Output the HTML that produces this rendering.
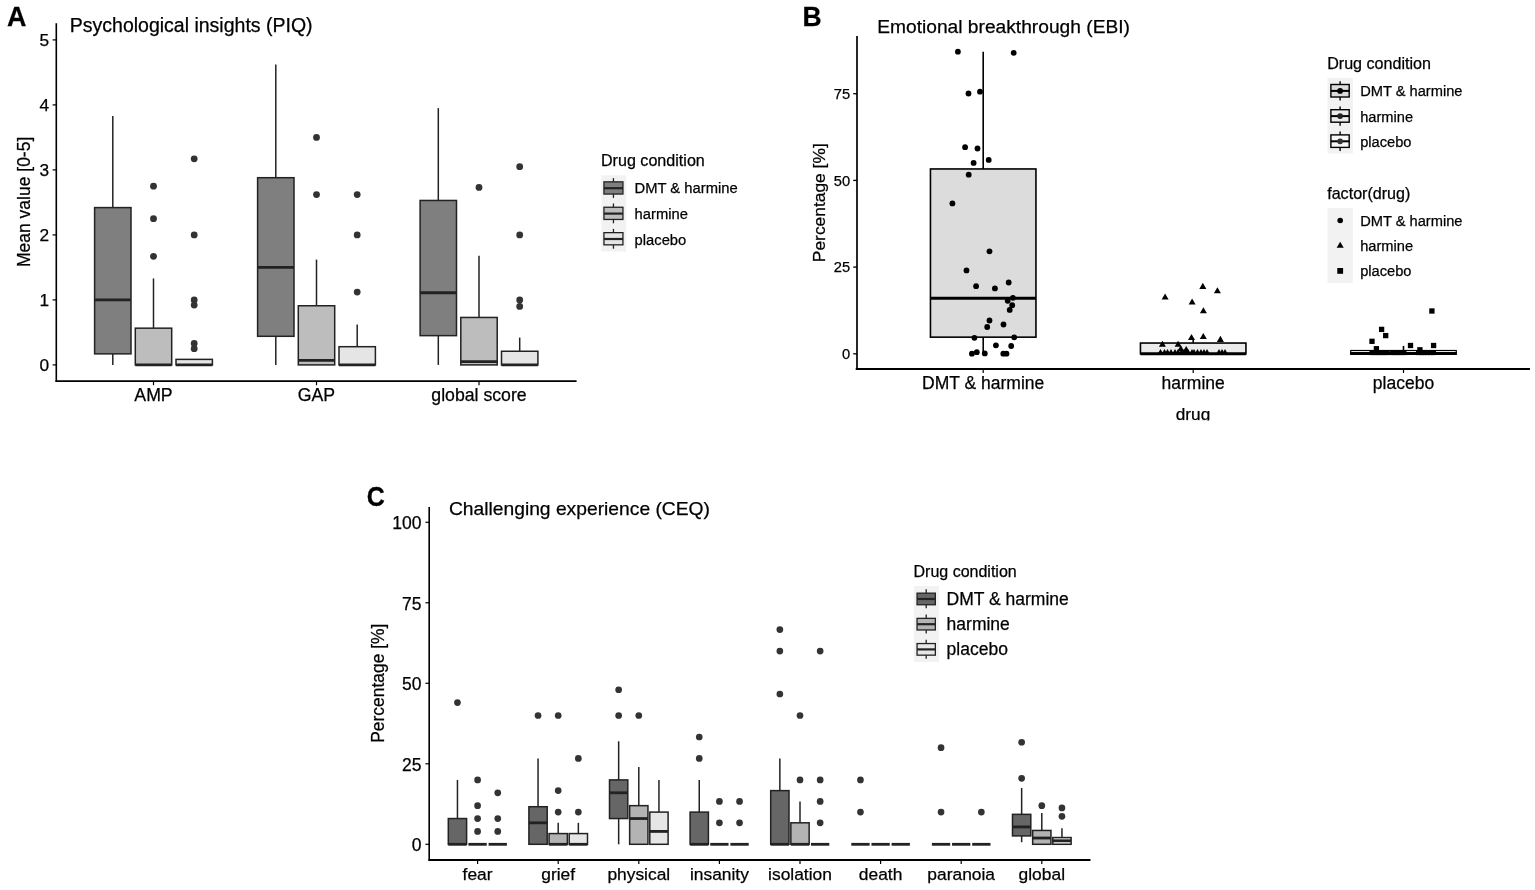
<!DOCTYPE html>
<html><head><meta charset="utf-8"><title>Figure</title>
<style>
html,body{margin:0;padding:0;background:#fff;}
body{width:1535px;height:890px;overflow:hidden;}
svg{display:block;font-family:'Liberation Sans', Arial, Helvetica, sans-serif;}
text{stroke:#000;stroke-width:0.25px;paint-order:stroke;}
</style></head>
<body>
<svg width="1535" height="890" viewBox="0 0 1535 890">
<rect x="0" y="0" width="1535" height="890" fill="#ffffff"/>
<g id="A">
<text x="0" y="0" font-size="26.5" text-anchor="start" fill="#000" font-weight="bold" transform="translate(6.95 26.2) scale(1.015 1.035)">A</text>
<text x="69.8" y="31.6" font-size="19.5" text-anchor="start" fill="#000">Psychological insights (PIQ)</text>
<line x1="56.3" y1="23.2" x2="56.3" y2="382" stroke="#000" stroke-width="1.6" stroke-linecap="butt"/>
<line x1="55.5" y1="381.2" x2="576.6" y2="381.2" stroke="#000" stroke-width="1.8" stroke-linecap="butt"/>
<line x1="52.6" y1="364.9" x2="56.4" y2="364.9" stroke="#000" stroke-width="1.2" stroke-linecap="butt"/>
<text x="49" y="371" font-size="17.3" text-anchor="end" fill="#000">0</text>
<line x1="52.6" y1="299.9" x2="56.4" y2="299.9" stroke="#000" stroke-width="1.2" stroke-linecap="butt"/>
<text x="49" y="306" font-size="17.3" text-anchor="end" fill="#000">1</text>
<line x1="52.6" y1="234.9" x2="56.4" y2="234.9" stroke="#000" stroke-width="1.2" stroke-linecap="butt"/>
<text x="49" y="241" font-size="17.3" text-anchor="end" fill="#000">2</text>
<line x1="52.6" y1="169.9" x2="56.4" y2="169.9" stroke="#000" stroke-width="1.2" stroke-linecap="butt"/>
<text x="49" y="176" font-size="17.3" text-anchor="end" fill="#000">3</text>
<line x1="52.6" y1="104.9" x2="56.4" y2="104.9" stroke="#000" stroke-width="1.2" stroke-linecap="butt"/>
<text x="49" y="111" font-size="17.3" text-anchor="end" fill="#000">4</text>
<line x1="52.6" y1="39.9" x2="56.4" y2="39.9" stroke="#000" stroke-width="1.2" stroke-linecap="butt"/>
<text x="49" y="46" font-size="17.3" text-anchor="end" fill="#000">5</text>
<line x1="153.5" y1="381.2" x2="153.5" y2="385.2" stroke="#000" stroke-width="1.2" stroke-linecap="butt"/>
<text x="153.5" y="401.2" font-size="17.7" text-anchor="middle" fill="#000">AMP</text>
<line x1="316.5" y1="381.2" x2="316.5" y2="385.2" stroke="#000" stroke-width="1.2" stroke-linecap="butt"/>
<text x="316.5" y="401.2" font-size="17.7" text-anchor="middle" fill="#000">GAP</text>
<line x1="479" y1="381.2" x2="479" y2="385.2" stroke="#000" stroke-width="1.2" stroke-linecap="butt"/>
<text x="479" y="401.2" font-size="17.7" text-anchor="middle" fill="#000">global score</text>
<text x="30" y="201.9" font-size="17.5" text-anchor="middle" fill="#000" transform="rotate(-90 30 201.9)">Mean value [0-5]</text>
<line x1="112.8" y1="115.95" x2="112.8" y2="207.6" stroke="#222222" stroke-width="1.5" stroke-linecap="butt"/>
<line x1="112.8" y1="353.85" x2="112.8" y2="364.9" stroke="#222222" stroke-width="1.5" stroke-linecap="butt"/>
<rect x="94.6" y="207.6" width="36.4" height="146.25" fill="#7f7f7f" stroke="#222222" stroke-width="1.5"/>
<line x1="94.6" y1="299.9" x2="131" y2="299.9" stroke="#222222" stroke-width="2.8" stroke-linecap="butt"/>
<line x1="153.5" y1="278.45" x2="153.5" y2="328.17" stroke="#222222" stroke-width="1.5" stroke-linecap="butt"/>
<rect x="135.3" y="328.17" width="36.4" height="36.73" fill="#bdbdbd" stroke="#222222" stroke-width="1.5"/>
<line x1="135.3" y1="364.9" x2="171.7" y2="364.9" stroke="#222222" stroke-width="2.8" stroke-linecap="butt"/>
<circle cx="153.5" cy="186.15" r="3.4" fill="#333"/>
<circle cx="153.5" cy="218.65" r="3.4" fill="#333"/>
<circle cx="153.5" cy="256.35" r="3.4" fill="#333"/>
<rect x="176" y="359.38" width="36.4" height="5.52" fill="#e5e5e5" stroke="#222222" stroke-width="1.5"/>
<line x1="176" y1="364.9" x2="212.4" y2="364.9" stroke="#222222" stroke-width="2.8" stroke-linecap="butt"/>
<circle cx="194.2" cy="158.85" r="3.4" fill="#333"/>
<circle cx="194.2" cy="234.9" r="3.4" fill="#333"/>
<circle cx="194.2" cy="299.9" r="3.4" fill="#333"/>
<circle cx="194.2" cy="305.1" r="3.4" fill="#333"/>
<circle cx="194.2" cy="343.45" r="3.4" fill="#333"/>
<circle cx="194.2" cy="348.65" r="3.4" fill="#333"/>
<line x1="275.8" y1="64.6" x2="275.8" y2="177.7" stroke="#222222" stroke-width="1.5" stroke-linecap="butt"/>
<line x1="275.8" y1="336.3" x2="275.8" y2="364.9" stroke="#222222" stroke-width="1.5" stroke-linecap="butt"/>
<rect x="257.6" y="177.7" width="36.4" height="158.6" fill="#7f7f7f" stroke="#222222" stroke-width="1.5"/>
<line x1="257.6" y1="267.4" x2="294" y2="267.4" stroke="#222222" stroke-width="2.8" stroke-linecap="butt"/>
<line x1="316.5" y1="259.6" x2="316.5" y2="305.75" stroke="#222222" stroke-width="1.5" stroke-linecap="butt"/>
<rect x="298.3" y="305.75" width="36.4" height="59.15" fill="#bdbdbd" stroke="#222222" stroke-width="1.5"/>
<line x1="298.3" y1="360.35" x2="334.7" y2="360.35" stroke="#222222" stroke-width="2.8" stroke-linecap="butt"/>
<circle cx="316.5" cy="137.4" r="3.4" fill="#333"/>
<circle cx="316.5" cy="194.6" r="3.4" fill="#333"/>
<line x1="357.2" y1="324.6" x2="357.2" y2="346.7" stroke="#222222" stroke-width="1.5" stroke-linecap="butt"/>
<rect x="339" y="346.7" width="36.4" height="18.2" fill="#e5e5e5" stroke="#222222" stroke-width="1.5"/>
<line x1="339" y1="364.9" x2="375.4" y2="364.9" stroke="#222222" stroke-width="2.8" stroke-linecap="butt"/>
<circle cx="357.2" cy="194.6" r="3.4" fill="#333"/>
<circle cx="357.2" cy="234.9" r="3.4" fill="#333"/>
<circle cx="357.2" cy="292.1" r="3.4" fill="#333"/>
<line x1="438.3" y1="108.15" x2="438.3" y2="200.45" stroke="#222222" stroke-width="1.5" stroke-linecap="butt"/>
<line x1="438.3" y1="335.65" x2="438.3" y2="364.9" stroke="#222222" stroke-width="1.5" stroke-linecap="butt"/>
<rect x="420.1" y="200.45" width="36.4" height="135.2" fill="#7f7f7f" stroke="#222222" stroke-width="1.5"/>
<line x1="420.1" y1="292.75" x2="456.5" y2="292.75" stroke="#222222" stroke-width="2.8" stroke-linecap="butt"/>
<line x1="479" y1="255.7" x2="479" y2="317.45" stroke="#222222" stroke-width="1.5" stroke-linecap="butt"/>
<rect x="460.8" y="317.45" width="36.4" height="47.45" fill="#bdbdbd" stroke="#222222" stroke-width="1.5"/>
<line x1="460.8" y1="361.65" x2="497.2" y2="361.65" stroke="#222222" stroke-width="2.8" stroke-linecap="butt"/>
<circle cx="479" cy="187.45" r="3.4" fill="#333"/>
<line x1="519.7" y1="337.6" x2="519.7" y2="351.25" stroke="#222222" stroke-width="1.5" stroke-linecap="butt"/>
<rect x="501.5" y="351.25" width="36.4" height="13.65" fill="#e5e5e5" stroke="#222222" stroke-width="1.5"/>
<line x1="501.5" y1="364.9" x2="537.9" y2="364.9" stroke="#222222" stroke-width="2.8" stroke-linecap="butt"/>
<circle cx="519.7" cy="166.65" r="3.4" fill="#333"/>
<circle cx="519.7" cy="234.9" r="3.4" fill="#333"/>
<circle cx="519.7" cy="299.9" r="3.4" fill="#333"/>
<circle cx="519.7" cy="306.4" r="3.4" fill="#333"/>
<text x="601" y="165.8" font-size="16.1" text-anchor="start" fill="#000">Drug condition</text>
<rect x="601.4" y="175.3" width="24.8" height="76.2" fill="#f2f2f2"/>
<line x1="613.45" y1="178.1" x2="613.45" y2="197.9" stroke="#222222" stroke-width="1.3" stroke-linecap="butt"/>
<rect x="603.95" y="181.85" width="19" height="12.2" fill="#7f7f7f" stroke="#222222" stroke-width="1.3"/>
<line x1="603.95" y1="188.2" x2="622.95" y2="188.2" stroke="#222222" stroke-width="2.2" stroke-linecap="butt"/>
<text x="634.6" y="193.4" font-size="14.75" text-anchor="start" fill="#000">DMT &amp; harmine</text>
<line x1="613.45" y1="203.5" x2="613.45" y2="223.3" stroke="#222222" stroke-width="1.3" stroke-linecap="butt"/>
<rect x="603.95" y="207.25" width="19" height="12.2" fill="#bdbdbd" stroke="#222222" stroke-width="1.3"/>
<line x1="603.95" y1="213.6" x2="622.95" y2="213.6" stroke="#222222" stroke-width="2.2" stroke-linecap="butt"/>
<text x="634.6" y="219.1" font-size="14.75" text-anchor="start" fill="#000">harmine</text>
<line x1="613.45" y1="228.9" x2="613.45" y2="248.7" stroke="#222222" stroke-width="1.3" stroke-linecap="butt"/>
<rect x="603.95" y="232.65" width="19" height="12.2" fill="#e5e5e5" stroke="#222222" stroke-width="1.3"/>
<line x1="603.95" y1="239" x2="622.95" y2="239" stroke="#222222" stroke-width="2.2" stroke-linecap="butt"/>
<text x="634.6" y="244.5" font-size="14.75" text-anchor="start" fill="#000">placebo</text>
</g>
<g id="B">
<text x="0" y="0" font-size="26.5" text-anchor="start" fill="#000" font-weight="bold" transform="translate(802.5 26) scale(1.0 1.03)">B</text>
<text x="877.2" y="32.6" font-size="19.2" text-anchor="start" fill="#000">Emotional breakthrough (EBI)</text>
<line x1="857" y1="36" x2="857" y2="369.9" stroke="#000" stroke-width="1.7" stroke-linecap="butt"/>
<line x1="855.7" y1="368.95" x2="1530" y2="368.95" stroke="#000" stroke-width="2" stroke-linecap="butt"/>
<line x1="853.2" y1="353.8" x2="857" y2="353.8" stroke="#000" stroke-width="1.3" stroke-linecap="butt"/>
<text x="850.1" y="359.1" font-size="14.7" text-anchor="end" fill="#000">0</text>
<line x1="853.2" y1="267.1" x2="857" y2="267.1" stroke="#000" stroke-width="1.3" stroke-linecap="butt"/>
<text x="850.1" y="272.4" font-size="14.7" text-anchor="end" fill="#000">25</text>
<line x1="853.2" y1="180.4" x2="857" y2="180.4" stroke="#000" stroke-width="1.3" stroke-linecap="butt"/>
<text x="850.1" y="185.7" font-size="14.7" text-anchor="end" fill="#000">50</text>
<line x1="853.2" y1="93.7" x2="857" y2="93.7" stroke="#000" stroke-width="1.3" stroke-linecap="butt"/>
<text x="850.1" y="99" font-size="14.7" text-anchor="end" fill="#000">75</text>
<line x1="983.2" y1="368.9" x2="983.2" y2="373" stroke="#000" stroke-width="1.2" stroke-linecap="butt"/>
<text x="983.2" y="389" font-size="17.5" text-anchor="middle" fill="#000">DMT &amp; harmine</text>
<line x1="1193.2" y1="368.9" x2="1193.2" y2="373" stroke="#000" stroke-width="1.2" stroke-linecap="butt"/>
<text x="1193.2" y="389" font-size="17.5" text-anchor="middle" fill="#000">harmine</text>
<line x1="1403.5" y1="368.9" x2="1403.5" y2="373" stroke="#000" stroke-width="1.2" stroke-linecap="butt"/>
<text x="1403.5" y="389" font-size="17.5" text-anchor="middle" fill="#000">placebo</text>
<text x="825.3" y="202.7" font-size="17.4" text-anchor="middle" fill="#000" transform="rotate(-90 825.3 202.7)">Percentage [%]</text>
<clipPath id="clipB"><rect x="0" y="0" width="1535" height="420.4"/></clipPath>
<text x="1193" y="420.1" font-size="17.2" text-anchor="middle" fill="#000" clip-path="url(#clipB)">drug</text>
<line x1="983.2" y1="51.74" x2="983.2" y2="168.96" stroke="#000" stroke-width="1.6" stroke-linecap="butt"/>
<line x1="983.2" y1="337.15" x2="983.2" y2="353.8" stroke="#000" stroke-width="1.6" stroke-linecap="butt"/>
<rect x="930.45" y="168.96" width="105.5" height="168.2" fill="#dcdcdc" stroke="#000" stroke-width="1.6"/>
<line x1="930.45" y1="298.31" x2="1035.95" y2="298.31" stroke="#000" stroke-width="3" stroke-linecap="butt"/>
<line x1="1193.2" y1="340.1" x2="1193.2" y2="343.05" stroke="#000" stroke-width="1.6" stroke-linecap="butt"/>
<rect x="1140.45" y="343.05" width="105.5" height="10.75" fill="#ebebeb" stroke="#000" stroke-width="1.6"/>
<line x1="1140.45" y1="353.8" x2="1245.95" y2="353.8" stroke="#000" stroke-width="3" stroke-linecap="butt"/>
<line x1="1403.5" y1="345.89" x2="1403.5" y2="350.5" stroke="#000" stroke-width="1.6" stroke-linecap="butt"/>
<rect x="1350.75" y="350.5" width="105.5" height="3.3" fill="#ffffff" stroke="#000" stroke-width="1.2"/>
<line x1="1350.15" y1="353.5" x2="1456.85" y2="353.5" stroke="#000" stroke-width="3" stroke-linecap="butt"/>
<circle cx="957.9" cy="51.7" r="2.9" fill="#000"/>
<circle cx="1013.7" cy="52.8" r="2.9" fill="#000"/>
<circle cx="968.5" cy="93.5" r="2.9" fill="#000"/>
<circle cx="980" cy="91.7" r="2.9" fill="#000"/>
<circle cx="965.1" cy="147.2" r="2.9" fill="#000"/>
<circle cx="977.5" cy="148.5" r="2.9" fill="#000"/>
<circle cx="988.7" cy="159.9" r="2.9" fill="#000"/>
<circle cx="973.6" cy="162.9" r="2.9" fill="#000"/>
<circle cx="968.7" cy="174.7" r="2.9" fill="#000"/>
<circle cx="952.4" cy="203.4" r="2.9" fill="#000"/>
<circle cx="989.5" cy="251.3" r="2.9" fill="#000"/>
<circle cx="966.5" cy="270.4" r="2.9" fill="#000"/>
<circle cx="976.1" cy="286.2" r="2.9" fill="#000"/>
<circle cx="994.9" cy="288.4" r="2.9" fill="#000"/>
<circle cx="1008.7" cy="282.5" r="2.9" fill="#000"/>
<circle cx="1012.9" cy="297.8" r="2.9" fill="#000"/>
<circle cx="1007.7" cy="300.8" r="2.9" fill="#000"/>
<circle cx="1012.2" cy="305.2" r="2.9" fill="#000"/>
<circle cx="1009.7" cy="309.9" r="2.9" fill="#000"/>
<circle cx="989.5" cy="320.5" r="2.9" fill="#000"/>
<circle cx="987.2" cy="327" r="2.9" fill="#000"/>
<circle cx="1003.5" cy="324.5" r="2.9" fill="#000"/>
<circle cx="974.4" cy="337.8" r="2.9" fill="#000"/>
<circle cx="1014.2" cy="337.3" r="2.9" fill="#000"/>
<circle cx="995.9" cy="345.3" r="2.9" fill="#000"/>
<circle cx="1011.2" cy="346" r="2.9" fill="#000"/>
<circle cx="971.9" cy="353.7" r="2.9" fill="#000"/>
<circle cx="976.8" cy="352.2" r="2.9" fill="#000"/>
<circle cx="984.8" cy="353.4" r="2.9" fill="#000"/>
<circle cx="1003.3" cy="353.7" r="2.9" fill="#000"/>
<circle cx="1006.5" cy="353.7" r="2.9" fill="#000"/>
<polygon points="1199.3,288.92 1206.3,288.92 1202.8,282.86" fill="#000"/>
<polygon points="1213.9,293.32 1220.9,293.32 1217.4,287.26" fill="#000"/>
<polygon points="1161.6,299.52 1168.6,299.52 1165.1,293.46" fill="#000"/>
<polygon points="1188.6,304.62 1195.6,304.62 1192.1,298.56" fill="#000"/>
<polygon points="1199.9,313.32 1206.9,313.32 1203.4,307.26" fill="#000"/>
<polygon points="1188,340.02 1195,340.02 1191.5,333.96" fill="#000"/>
<polygon points="1199.8,339.12 1206.8,339.12 1203.3,333.06" fill="#000"/>
<polygon points="1216.9,341.92 1223.9,341.92 1220.4,335.86" fill="#000"/>
<polygon points="1158.9,346.72 1165.9,346.72 1162.4,340.66" fill="#000"/>
<polygon points="1174.6,346.72 1181.6,346.72 1178.1,340.66" fill="#000"/>
<polygon points="1177.3,351.22 1184.3,351.22 1180.8,345.16" fill="#000"/>
<polygon points="1182.7,352.02 1189.7,352.02 1186.2,345.96" fill="#000"/>
<polygon points="1157.2,354.71 1163.8,354.71 1160.5,348.99" fill="#000"/>
<polygon points="1161.2,354.71 1167.8,354.71 1164.5,348.99" fill="#000"/>
<polygon points="1164.2,354.71 1170.8,354.71 1167.5,348.99" fill="#000"/>
<polygon points="1167.7,354.71 1174.3,354.71 1171,348.99" fill="#000"/>
<polygon points="1171.7,354.71 1178.3,354.71 1175,348.99" fill="#000"/>
<polygon points="1174.7,354.71 1181.3,354.71 1178,348.99" fill="#000"/>
<polygon points="1178.2,354.71 1184.8,354.71 1181.5,348.99" fill="#000"/>
<polygon points="1180.7,354.71 1187.3,354.71 1184,348.99" fill="#000"/>
<polygon points="1184.7,354.71 1191.3,354.71 1188,348.99" fill="#000"/>
<polygon points="1188.7,354.71 1195.3,354.71 1192,348.99" fill="#000"/>
<polygon points="1190.7,354.71 1197.3,354.71 1194,348.99" fill="#000"/>
<polygon points="1194.2,354.71 1200.8,354.71 1197.5,348.99" fill="#000"/>
<polygon points="1197.7,354.71 1204.3,354.71 1201,348.99" fill="#000"/>
<polygon points="1200.7,354.71 1207.3,354.71 1204,348.99" fill="#000"/>
<polygon points="1203.7,354.71 1210.3,354.71 1207,348.99" fill="#000"/>
<polygon points="1215.7,354.71 1222.3,354.71 1219,348.99" fill="#000"/>
<polygon points="1218.7,354.71 1225.3,354.71 1222,348.99" fill="#000"/>
<polygon points="1221.7,354.71 1228.3,354.71 1225,348.99" fill="#000"/>
<rect x="1429.25" y="308.35" width="5.3" height="5.3" fill="#000"/>
<rect x="1378.95" y="326.75" width="5.3" height="5.3" fill="#000"/>
<rect x="1383.05" y="332.95" width="5.3" height="5.3" fill="#000"/>
<rect x="1369.35" y="338.65" width="5.3" height="5.3" fill="#000"/>
<rect x="1407.85" y="342.85" width="5.3" height="5.3" fill="#000"/>
<rect x="1430.95" y="342.85" width="5.3" height="5.3" fill="#000"/>
<rect x="1373.75" y="346.05" width="5.3" height="5.3" fill="#000"/>
<rect x="1417.25" y="347.15" width="5.3" height="5.3" fill="#000"/>
<rect x="1369.5" y="350.1" width="5" height="5" fill="#000"/>
<rect x="1372.5" y="350.1" width="5" height="5" fill="#000"/>
<rect x="1375.5" y="350.1" width="5" height="5" fill="#000"/>
<rect x="1378.5" y="350.1" width="5" height="5" fill="#000"/>
<rect x="1381.5" y="350.1" width="5" height="5" fill="#000"/>
<rect x="1384.5" y="350.1" width="5" height="5" fill="#000"/>
<rect x="1389.5" y="350.1" width="5" height="5" fill="#000"/>
<rect x="1392.5" y="350.1" width="5" height="5" fill="#000"/>
<rect x="1395.5" y="350.1" width="5" height="5" fill="#000"/>
<rect x="1398.5" y="350.1" width="5" height="5" fill="#000"/>
<rect x="1401.5" y="350.1" width="5" height="5" fill="#000"/>
<rect x="1416" y="350.1" width="5" height="5" fill="#000"/>
<rect x="1419" y="350.1" width="5" height="5" fill="#000"/>
<rect x="1422" y="350.1" width="5" height="5" fill="#000"/>
<rect x="1425" y="350.1" width="5" height="5" fill="#000"/>
<rect x="1428" y="350.1" width="5" height="5" fill="#000"/>
<rect x="1431" y="350.1" width="5" height="5" fill="#000"/>
<text x="1327.2" y="68.9" font-size="16.1" text-anchor="start" fill="#000">Drug condition</text>
<rect x="1327.5" y="78" width="25.4" height="75.5" fill="#f2f2f2"/>
<line x1="1340.1" y1="81.2" x2="1340.1" y2="100.6" stroke="#000" stroke-width="1.4" stroke-linecap="butt"/>
<rect x="1330.9" y="84.5" width="18.3" height="12.5" fill="#dcdcdc" stroke="#000" stroke-width="1.4"/>
<line x1="1330.9" y1="90.9" x2="1349.2" y2="90.9" stroke="#000" stroke-width="2" stroke-linecap="butt"/>
<circle cx="1340.1" cy="90.9" r="2.85" fill="#000"/>
<text x="1360.2" y="96.4" font-size="14.65" text-anchor="start" fill="#000">DMT &amp; harmine</text>
<line x1="1340.1" y1="106.4" x2="1340.1" y2="125.8" stroke="#000" stroke-width="1.4" stroke-linecap="butt"/>
<rect x="1330.9" y="109.7" width="18.3" height="12.5" fill="#ebebeb" stroke="#000" stroke-width="1.4"/>
<line x1="1330.9" y1="116.1" x2="1349.2" y2="116.1" stroke="#000" stroke-width="2" stroke-linecap="butt"/>
<circle cx="1340.1" cy="116.1" r="2.85" fill="#222"/>
<text x="1360.2" y="121.7" font-size="14.65" text-anchor="start" fill="#000">harmine</text>
<line x1="1340.1" y1="131.6" x2="1340.1" y2="151" stroke="#000" stroke-width="1.4" stroke-linecap="butt"/>
<rect x="1330.9" y="134.9" width="18.3" height="12.5" fill="#f7f7f7" stroke="#000" stroke-width="1.4"/>
<line x1="1330.9" y1="141.3" x2="1349.2" y2="141.3" stroke="#000" stroke-width="2" stroke-linecap="butt"/>
<circle cx="1340.1" cy="141.3" r="2.85" fill="#333"/>
<text x="1360.2" y="146.8" font-size="14.65" text-anchor="start" fill="#000">placebo</text>
<text x="1327.2" y="198.9" font-size="16.1" text-anchor="start" fill="#000">factor(drug)</text>
<rect x="1327.5" y="208" width="25.4" height="74.9" fill="#f2f2f2"/>
<circle cx="1340.2" cy="220.5" r="2.8" fill="#000"/>
<polygon points="1336.65,247.85 1343.75,247.85 1340.2,241.7" fill="#000"/>
<rect x="1337.3" y="268" width="5.8" height="5.8" fill="#000"/>
<text x="1360.2" y="225.8" font-size="14.65" text-anchor="start" fill="#000">DMT &amp; harmine</text>
<text x="1360.2" y="251" font-size="14.65" text-anchor="start" fill="#000">harmine</text>
<text x="1360.2" y="276.2" font-size="14.65" text-anchor="start" fill="#000">placebo</text>
</g>
<g id="C">
<text x="0" y="0" font-size="26.5" text-anchor="start" fill="#000" font-weight="bold" transform="translate(366.85 505.6) scale(0.944 1.065)">C</text>
<text x="448.9" y="515" font-size="19.25" text-anchor="start" fill="#000">Challenging experience (CEQ)</text>
<line x1="429.2" y1="507" x2="429.2" y2="860.8" stroke="#000" stroke-width="1.6" stroke-linecap="butt"/>
<line x1="428.4" y1="860" x2="1090.5" y2="860" stroke="#000" stroke-width="1.8" stroke-linecap="butt"/>
<line x1="425.4" y1="844.3" x2="429.2" y2="844.3" stroke="#000" stroke-width="1.2" stroke-linecap="butt"/>
<text x="421.4" y="851.2" font-size="17.5" text-anchor="end" fill="#000">0</text>
<line x1="425.4" y1="763.8" x2="429.2" y2="763.8" stroke="#000" stroke-width="1.2" stroke-linecap="butt"/>
<text x="421.4" y="770.7" font-size="17.5" text-anchor="end" fill="#000">25</text>
<line x1="425.4" y1="683.3" x2="429.2" y2="683.3" stroke="#000" stroke-width="1.2" stroke-linecap="butt"/>
<text x="421.4" y="690.2" font-size="17.5" text-anchor="end" fill="#000">50</text>
<line x1="425.4" y1="602.8" x2="429.2" y2="602.8" stroke="#000" stroke-width="1.2" stroke-linecap="butt"/>
<text x="421.4" y="609.7" font-size="17.5" text-anchor="end" fill="#000">75</text>
<line x1="425.4" y1="522.3" x2="429.2" y2="522.3" stroke="#000" stroke-width="1.2" stroke-linecap="butt"/>
<text x="421.4" y="529.2" font-size="17.5" text-anchor="end" fill="#000">100</text>
<line x1="477.6" y1="859.9" x2="477.6" y2="864" stroke="#000" stroke-width="1.2" stroke-linecap="butt"/>
<text x="477.6" y="880" font-size="17.4" text-anchor="middle" fill="#000">fear</text>
<line x1="558.2" y1="859.9" x2="558.2" y2="864" stroke="#000" stroke-width="1.2" stroke-linecap="butt"/>
<text x="558.2" y="880" font-size="17.4" text-anchor="middle" fill="#000">grief</text>
<line x1="638.8" y1="859.9" x2="638.8" y2="864" stroke="#000" stroke-width="1.2" stroke-linecap="butt"/>
<text x="638.8" y="880" font-size="17.4" text-anchor="middle" fill="#000">physical</text>
<line x1="719.4" y1="859.9" x2="719.4" y2="864" stroke="#000" stroke-width="1.2" stroke-linecap="butt"/>
<text x="719.4" y="880" font-size="17.4" text-anchor="middle" fill="#000">insanity</text>
<line x1="800" y1="859.9" x2="800" y2="864" stroke="#000" stroke-width="1.2" stroke-linecap="butt"/>
<text x="800" y="880" font-size="17.4" text-anchor="middle" fill="#000">isolation</text>
<line x1="880.6" y1="859.9" x2="880.6" y2="864" stroke="#000" stroke-width="1.2" stroke-linecap="butt"/>
<text x="880.6" y="880" font-size="17.4" text-anchor="middle" fill="#000">death</text>
<line x1="961.2" y1="859.9" x2="961.2" y2="864" stroke="#000" stroke-width="1.2" stroke-linecap="butt"/>
<text x="961.2" y="880" font-size="17.4" text-anchor="middle" fill="#000">paranoia</text>
<line x1="1041.8" y1="859.9" x2="1041.8" y2="864" stroke="#000" stroke-width="1.2" stroke-linecap="butt"/>
<text x="1041.8" y="880" font-size="17.4" text-anchor="middle" fill="#000">global</text>
<text x="384.5" y="683.2" font-size="17.45" text-anchor="middle" fill="#000" transform="rotate(-90 384.5 683.2)">Percentage [%]</text>
<line x1="457.45" y1="779.9" x2="457.45" y2="818.54" stroke="#222222" stroke-width="1.5" stroke-linecap="butt"/>
<rect x="448.3" y="818.54" width="18.3" height="25.76" fill="#666666" stroke="#222222" stroke-width="1.5"/>
<line x1="448.3" y1="844.3" x2="466.6" y2="844.3" stroke="#222222" stroke-width="2.8" stroke-linecap="butt"/>
<circle cx="457.45" cy="702.62" r="3.35" fill="#333"/>
<rect x="468.45" y="844.3" width="18.3" height="0" fill="#b3b3b3" stroke="#222222" stroke-width="1.5"/>
<line x1="468.45" y1="844.3" x2="486.75" y2="844.3" stroke="#222222" stroke-width="2.8" stroke-linecap="butt"/>
<circle cx="477.6" cy="779.9" r="3.35" fill="#333"/>
<circle cx="477.6" cy="805.66" r="3.35" fill="#333"/>
<circle cx="477.6" cy="818.54" r="3.35" fill="#333"/>
<circle cx="477.6" cy="831.42" r="3.35" fill="#333"/>
<rect x="488.6" y="844.3" width="18.3" height="0" fill="#e6e6e6" stroke="#222222" stroke-width="1.5"/>
<line x1="488.6" y1="844.3" x2="506.9" y2="844.3" stroke="#222222" stroke-width="2.8" stroke-linecap="butt"/>
<circle cx="497.75" cy="792.78" r="3.35" fill="#333"/>
<circle cx="497.75" cy="818.54" r="3.35" fill="#333"/>
<circle cx="497.75" cy="831.42" r="3.35" fill="#333"/>
<line x1="538.05" y1="758.42" x2="538.05" y2="806.72" stroke="#222222" stroke-width="1.5" stroke-linecap="butt"/>
<rect x="528.9" y="806.72" width="18.3" height="37.58" fill="#666666" stroke="#222222" stroke-width="1.5"/>
<line x1="528.9" y1="822.82" x2="547.2" y2="822.82" stroke="#222222" stroke-width="2.8" stroke-linecap="butt"/>
<circle cx="538.05" cy="715.5" r="3.35" fill="#333"/>
<line x1="558.2" y1="822.82" x2="558.2" y2="833.58" stroke="#222222" stroke-width="1.5" stroke-linecap="butt"/>
<rect x="549.05" y="833.58" width="18.3" height="10.72" fill="#b3b3b3" stroke="#222222" stroke-width="1.5"/>
<line x1="549.05" y1="844.3" x2="567.35" y2="844.3" stroke="#222222" stroke-width="2.8" stroke-linecap="butt"/>
<circle cx="558.2" cy="715.5" r="3.35" fill="#333"/>
<circle cx="558.2" cy="790.62" r="3.35" fill="#333"/>
<circle cx="558.2" cy="812.1" r="3.35" fill="#333"/>
<line x1="578.35" y1="822.82" x2="578.35" y2="833.58" stroke="#222222" stroke-width="1.5" stroke-linecap="butt"/>
<rect x="569.2" y="833.58" width="18.3" height="10.72" fill="#e6e6e6" stroke="#222222" stroke-width="1.5"/>
<line x1="569.2" y1="844.3" x2="587.5" y2="844.3" stroke="#222222" stroke-width="2.8" stroke-linecap="butt"/>
<circle cx="578.35" cy="758.42" r="3.35" fill="#333"/>
<circle cx="578.35" cy="812.1" r="3.35" fill="#333"/>
<line x1="618.65" y1="741.26" x2="618.65" y2="779.9" stroke="#222222" stroke-width="1.5" stroke-linecap="butt"/>
<line x1="618.65" y1="818.54" x2="618.65" y2="844.3" stroke="#222222" stroke-width="1.5" stroke-linecap="butt"/>
<rect x="609.5" y="779.9" width="18.3" height="38.64" fill="#666666" stroke="#222222" stroke-width="1.5"/>
<line x1="609.5" y1="792.78" x2="627.8" y2="792.78" stroke="#222222" stroke-width="2.8" stroke-linecap="butt"/>
<circle cx="618.65" cy="689.74" r="3.35" fill="#333"/>
<circle cx="618.65" cy="715.5" r="3.35" fill="#333"/>
<line x1="638.8" y1="767.02" x2="638.8" y2="805.66" stroke="#222222" stroke-width="1.5" stroke-linecap="butt"/>
<rect x="629.65" y="805.66" width="18.3" height="38.64" fill="#b3b3b3" stroke="#222222" stroke-width="1.5"/>
<line x1="629.65" y1="818.54" x2="647.95" y2="818.54" stroke="#222222" stroke-width="2.8" stroke-linecap="butt"/>
<circle cx="638.8" cy="715.5" r="3.35" fill="#333"/>
<line x1="658.95" y1="779.9" x2="658.95" y2="812.1" stroke="#222222" stroke-width="1.5" stroke-linecap="butt"/>
<rect x="649.8" y="812.1" width="18.3" height="32.2" fill="#e6e6e6" stroke="#222222" stroke-width="1.5"/>
<line x1="649.8" y1="831.42" x2="668.1" y2="831.42" stroke="#222222" stroke-width="2.8" stroke-linecap="butt"/>
<line x1="699.25" y1="779.9" x2="699.25" y2="812.1" stroke="#222222" stroke-width="1.5" stroke-linecap="butt"/>
<rect x="690.1" y="812.1" width="18.3" height="32.2" fill="#666666" stroke="#222222" stroke-width="1.5"/>
<line x1="690.1" y1="844.3" x2="708.4" y2="844.3" stroke="#222222" stroke-width="2.8" stroke-linecap="butt"/>
<circle cx="699.25" cy="736.98" r="3.35" fill="#333"/>
<circle cx="699.25" cy="758.42" r="3.35" fill="#333"/>
<rect x="710.25" y="844.3" width="18.3" height="0" fill="#b3b3b3" stroke="#222222" stroke-width="1.5"/>
<line x1="710.25" y1="844.3" x2="728.55" y2="844.3" stroke="#222222" stroke-width="2.8" stroke-linecap="butt"/>
<circle cx="719.4" cy="801.38" r="3.35" fill="#333"/>
<circle cx="719.4" cy="822.82" r="3.35" fill="#333"/>
<rect x="730.4" y="844.3" width="18.3" height="0" fill="#e6e6e6" stroke="#222222" stroke-width="1.5"/>
<line x1="730.4" y1="844.3" x2="748.7" y2="844.3" stroke="#222222" stroke-width="2.8" stroke-linecap="butt"/>
<circle cx="739.55" cy="801.38" r="3.35" fill="#333"/>
<circle cx="739.55" cy="822.82" r="3.35" fill="#333"/>
<line x1="779.85" y1="758.42" x2="779.85" y2="790.62" stroke="#222222" stroke-width="1.5" stroke-linecap="butt"/>
<rect x="770.7" y="790.62" width="18.3" height="53.68" fill="#666666" stroke="#222222" stroke-width="1.5"/>
<line x1="770.7" y1="844.3" x2="789" y2="844.3" stroke="#222222" stroke-width="2.8" stroke-linecap="butt"/>
<circle cx="779.85" cy="629.62" r="3.35" fill="#333"/>
<circle cx="779.85" cy="651.1" r="3.35" fill="#333"/>
<circle cx="779.85" cy="694.02" r="3.35" fill="#333"/>
<line x1="800" y1="801.38" x2="800" y2="822.82" stroke="#222222" stroke-width="1.5" stroke-linecap="butt"/>
<rect x="790.85" y="822.82" width="18.3" height="21.48" fill="#b3b3b3" stroke="#222222" stroke-width="1.5"/>
<line x1="790.85" y1="844.3" x2="809.15" y2="844.3" stroke="#222222" stroke-width="2.8" stroke-linecap="butt"/>
<circle cx="800" cy="715.5" r="3.35" fill="#333"/>
<circle cx="800" cy="779.9" r="3.35" fill="#333"/>
<rect x="811" y="844.3" width="18.3" height="0" fill="#e6e6e6" stroke="#222222" stroke-width="1.5"/>
<line x1="811" y1="844.3" x2="829.3" y2="844.3" stroke="#222222" stroke-width="2.8" stroke-linecap="butt"/>
<circle cx="820.15" cy="651.1" r="3.35" fill="#333"/>
<circle cx="820.15" cy="779.9" r="3.35" fill="#333"/>
<circle cx="820.15" cy="801.38" r="3.35" fill="#333"/>
<circle cx="820.15" cy="822.82" r="3.35" fill="#333"/>
<rect x="851.3" y="844.3" width="18.3" height="0" fill="#666666" stroke="#222222" stroke-width="1.5"/>
<line x1="851.3" y1="844.3" x2="869.6" y2="844.3" stroke="#222222" stroke-width="2.8" stroke-linecap="butt"/>
<circle cx="860.45" cy="779.9" r="3.35" fill="#333"/>
<circle cx="860.45" cy="812.1" r="3.35" fill="#333"/>
<rect x="871.45" y="844.3" width="18.3" height="0" fill="#b3b3b3" stroke="#222222" stroke-width="1.5"/>
<line x1="871.45" y1="844.3" x2="889.75" y2="844.3" stroke="#222222" stroke-width="2.8" stroke-linecap="butt"/>
<rect x="891.6" y="844.3" width="18.3" height="0" fill="#e6e6e6" stroke="#222222" stroke-width="1.5"/>
<line x1="891.6" y1="844.3" x2="909.9" y2="844.3" stroke="#222222" stroke-width="2.8" stroke-linecap="butt"/>
<rect x="931.9" y="844.3" width="18.3" height="0" fill="#666666" stroke="#222222" stroke-width="1.5"/>
<line x1="931.9" y1="844.3" x2="950.2" y2="844.3" stroke="#222222" stroke-width="2.8" stroke-linecap="butt"/>
<circle cx="941.05" cy="747.7" r="3.35" fill="#333"/>
<circle cx="941.05" cy="812.1" r="3.35" fill="#333"/>
<rect x="952.05" y="844.3" width="18.3" height="0" fill="#b3b3b3" stroke="#222222" stroke-width="1.5"/>
<line x1="952.05" y1="844.3" x2="970.35" y2="844.3" stroke="#222222" stroke-width="2.8" stroke-linecap="butt"/>
<rect x="972.2" y="844.3" width="18.3" height="0" fill="#e6e6e6" stroke="#222222" stroke-width="1.5"/>
<line x1="972.2" y1="844.3" x2="990.5" y2="844.3" stroke="#222222" stroke-width="2.8" stroke-linecap="butt"/>
<circle cx="981.35" cy="812.1" r="3.35" fill="#333"/>
<line x1="1021.65" y1="787.95" x2="1021.65" y2="814.35" stroke="#222222" stroke-width="1.5" stroke-linecap="butt"/>
<line x1="1021.65" y1="835.93" x2="1021.65" y2="842.21" stroke="#222222" stroke-width="1.5" stroke-linecap="butt"/>
<rect x="1012.5" y="814.35" width="18.3" height="21.57" fill="#666666" stroke="#222222" stroke-width="1.5"/>
<line x1="1012.5" y1="826.91" x2="1030.8" y2="826.91" stroke="#222222" stroke-width="2.8" stroke-linecap="butt"/>
<circle cx="1021.65" cy="742.23" r="3.35" fill="#333"/>
<circle cx="1021.65" cy="778.29" r="3.35" fill="#333"/>
<line x1="1041.8" y1="813.07" x2="1041.8" y2="830.45" stroke="#222222" stroke-width="1.5" stroke-linecap="butt"/>
<rect x="1032.65" y="830.45" width="18.3" height="13.85" fill="#b3b3b3" stroke="#222222" stroke-width="1.5"/>
<line x1="1032.65" y1="838.02" x2="1050.95" y2="838.02" stroke="#222222" stroke-width="2.8" stroke-linecap="butt"/>
<circle cx="1041.8" cy="805.66" r="3.35" fill="#333"/>
<line x1="1061.95" y1="828.2" x2="1061.95" y2="837.54" stroke="#222222" stroke-width="1.5" stroke-linecap="butt"/>
<rect x="1052.8" y="837.54" width="18.3" height="6.76" fill="#e6e6e6" stroke="#222222" stroke-width="1.5"/>
<line x1="1052.8" y1="840.76" x2="1071.1" y2="840.76" stroke="#222222" stroke-width="2.8" stroke-linecap="butt"/>
<circle cx="1061.95" cy="807.91" r="3.35" fill="#333"/>
<circle cx="1061.95" cy="816.29" r="3.35" fill="#333"/>
<text x="913.5" y="576.7" font-size="16" text-anchor="start" fill="#000">Drug condition</text>
<rect x="913.8" y="586" width="25.1" height="76" fill="#f2f2f2"/>
<line x1="926.2" y1="589.3" x2="926.2" y2="608.3" stroke="#222222" stroke-width="1.3" stroke-linecap="butt"/>
<rect x="917.05" y="593.15" width="18.3" height="11.6" fill="#666666" stroke="#222222" stroke-width="1.3"/>
<line x1="917.05" y1="599" x2="935.35" y2="599" stroke="#222222" stroke-width="2.2" stroke-linecap="butt"/>
<text x="946.6" y="605.1" font-size="17.5" text-anchor="start" fill="#000">DMT &amp; harmine</text>
<line x1="926.2" y1="614.5" x2="926.2" y2="633.5" stroke="#222222" stroke-width="1.3" stroke-linecap="butt"/>
<rect x="917.05" y="618.35" width="18.3" height="11.6" fill="#b3b3b3" stroke="#222222" stroke-width="1.3"/>
<line x1="917.05" y1="624.2" x2="935.35" y2="624.2" stroke="#222222" stroke-width="2.2" stroke-linecap="butt"/>
<text x="946.6" y="630.4" font-size="17.5" text-anchor="start" fill="#000">harmine</text>
<line x1="926.2" y1="639.7" x2="926.2" y2="658.7" stroke="#222222" stroke-width="1.3" stroke-linecap="butt"/>
<rect x="917.05" y="643.55" width="18.3" height="11.6" fill="#e6e6e6" stroke="#222222" stroke-width="1.3"/>
<line x1="917.05" y1="649.4" x2="935.35" y2="649.4" stroke="#222222" stroke-width="2.2" stroke-linecap="butt"/>
<text x="946.6" y="655.2" font-size="17.5" text-anchor="start" fill="#000">placebo</text>
</g>
</svg>
</body></html>
